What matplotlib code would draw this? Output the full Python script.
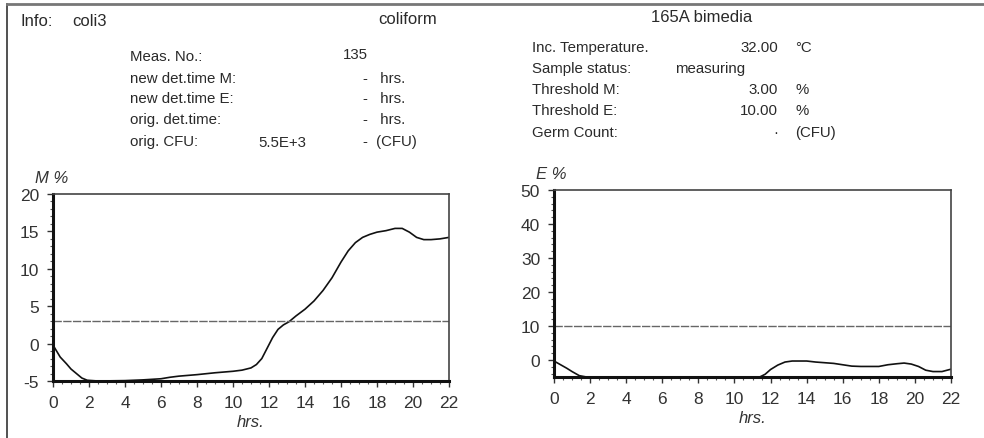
import numpy as np
import matplotlib.pyplot as plt
from matplotlib.lines import Line2D
from matplotlib.ticker import MultipleLocator

plt.rcParams['font.family'] = ['Liberation Sans', 'DejaVu Sans']
plt.rcParams['axes.unicode_minus'] = False

# M curve (left)
m_hrs = [0, 0.4, 0.75, 1.0, 1.3, 1.6, 1.9, 2.5, 4, 5, 6, 6.5, 7, 8, 9, 10, 10.5, 11, 11.3, 11.6,
         11.9, 12.2, 12.5, 12.8, 13.1, 13.5, 14, 14.5, 15, 15.5, 16, 16.4, 16.8, 17.2, 17.6,
         18, 18.5, 19, 19.4, 19.8, 20.2, 20.6, 21, 21.5, 22]
m_val = [-0.2, -1.8, -2.7, -3.4, -4.0, -4.6, -4.9, -5.0, -4.95, -4.85, -4.7, -4.5, -4.35, -4.15,
         -3.9, -3.7, -3.55, -3.25, -2.8, -2.0, -0.6, 0.8, 1.9, 2.5, 2.9, 3.7, 4.6, 5.7, 7.1, 8.8,
         10.9, 12.4, 13.5, 14.2, 14.6, 14.9, 15.1, 15.4, 15.4, 14.9, 14.2, 13.9, 13.9, 14.0, 14.2]

# E curve (right)
e_hrs = [0, 0.4, 0.7, 1.0, 1.4, 1.8, 4, 8, 11.4, 11.7, 12.0, 12.4, 12.8, 13.2, 14, 14.5, 15,
         15.5, 16, 16.5, 17, 17.5, 18, 18.5, 19, 19.4, 19.8, 20.2, 20.6, 21.0, 21.5, 22]
e_val = [-0.3, -1.5, -2.4, -3.4, -4.6, -5.0, -5.0, -5.0, -5.0, -4.2, -2.8, -1.5, -0.6, -0.3,
         -0.3, -0.6, -0.8, -1.0, -1.4, -1.8, -1.9, -1.9, -1.9, -1.4, -1.1, -0.9, -1.2, -1.9,
         -3.0, -3.4, -3.4, -2.7]

thr_m = 3.0
thr_e = 10.0

x_ticks = list(range(0, 23, 2))
m_ticks = [-5, 0, 5, 10, 15, 20]
e_ticks = [0, 10, 20, 30, 40, 50]

left_info = [("Meas. No.:", "135"),
             ("new det.time M:", "-   hrs."),
             ("new det.time E:", "-   hrs."),
             ("orig. det.time:", "-   hrs."),
             ("orig. CFU:", "-  (CFU)")]
right_info = [("Inc. Temperature.", "32.00", "°C"),
              ("Sample status:", "", ""),
              ("Threshold M:", "3.00", "%"),
              ("Threshold E:", "10.00", "%"),
              ("Germ Count:", "·", "(CFU)")]

txt = '#2a2a2a'
fig = plt.figure(figsize=(9.84, 4.39), dpi=100)

# outer frame (left and top edges only)
fig.add_artist(Line2D([7/984, 7/984], [0, 1 - 5/439], color='#333333', lw=1.2))
fig.add_artist(Line2D([7/984, 1], [1 - 5/439, 1 - 5/439], color='#777777', lw=2))


def px(x, y):
    return x / 984, 1 - y / 439


fs = 10.8
fig.text(*px(20, 22), "Info:", fontsize=12, color=txt, va='center')
fig.text(*px(72, 22), "coli3", fontsize=12, color=txt, va='center')
fig.text(*px(408, 20), "coliform", fontsize=12, color=txt, va='center', ha='center')
fig.text(*px(702, 18), "165A bimedia", fontsize=12, color=txt, va='center', ha='center')

ys = [57, 79, 99, 120, 142]
for (lab, val), y in zip(left_info, ys):
    fig.text(*px(130, y), lab, fontsize=fs, color=txt, va='center')
    if lab.startswith("Meas"):
        fig.text(*px(343, y - 2), val, fontsize=fs, color=txt, va='center')
    else:
        fig.text(*px(363, y), val, fontsize=fs, color=txt, va='center')
fig.text(*px(258, 143), "5.5E+3", fontsize=fs, color=txt, va='center')

ys = [48, 69, 90, 111, 133]
for (lab, val, unit), y in zip(right_info, ys):
    fig.text(*px(532, y), lab, fontsize=fs, color=txt, va='center')
    if val:
        fig.text(*px(778, y), val, fontsize=fs, color=txt, va='center', ha='right')
        fig.text(*px(795, y), unit, fontsize=fs, color=txt, va='center')
fig.text(*px(675, 69), "measuring", fontsize=fs, color=txt, va='center')


def setup(ax, ymin, ymax, yticks, yminor, ylab):
    ax.set_xlim(0, 22)
    ax.set_ylim(ymin, ymax)
    ax.set_xticks(x_ticks)
    ax.set_yticks(yticks)
    ax.xaxis.set_minor_locator(MultipleLocator(0.5))
    ax.yaxis.set_minor_locator(MultipleLocator(yminor))
    ax.tick_params(which='major', direction='out', length=4, width=1, labelsize=12.5,
                   colors='#333333', pad=6)
    ax.tick_params(which='minor', direction='out', length=2.5, width=0.8, colors='#555555')
    for s in ('left', 'bottom'):
        ax.spines[s].set_linewidth(2.2)
        ax.spines[s].set_color('#111111')
    for s in ('top', 'right'):
        ax.spines[s].set_linewidth(1.2)
        ax.spines[s].set_color('#444444')
    ax.set_xlabel("hrs.", fontsize=12, style='italic', color='#333333', labelpad=3)
    ax.text(-0.045, 1.05, ylab, transform=ax.transAxes, fontsize=12, style='italic',
            color='#333333', va='bottom')


ax1 = fig.add_axes([53/984, 1 - 382/439, 396/984, 187/439])
ax1.plot(m_hrs, m_val, color='#111111', lw=1.2)
ax1.axhline(thr_m, color='#666666', lw=1, ls=(0, (6, 1)))
setup(ax1, -5, 20, m_ticks, 1, "M %")

ax2 = fig.add_axes([554/984, 1 - 378/439, 397/984, 187/439])
ax2.plot(e_hrs, e_val, color='#111111', lw=1.2)
ax2.axhline(thr_e, color='#666666', lw=1, ls=(0, (6, 1)))
setup(ax2, -5, 50, e_ticks, 2, "E %")

fig.savefig("out.png", dpi=100)
